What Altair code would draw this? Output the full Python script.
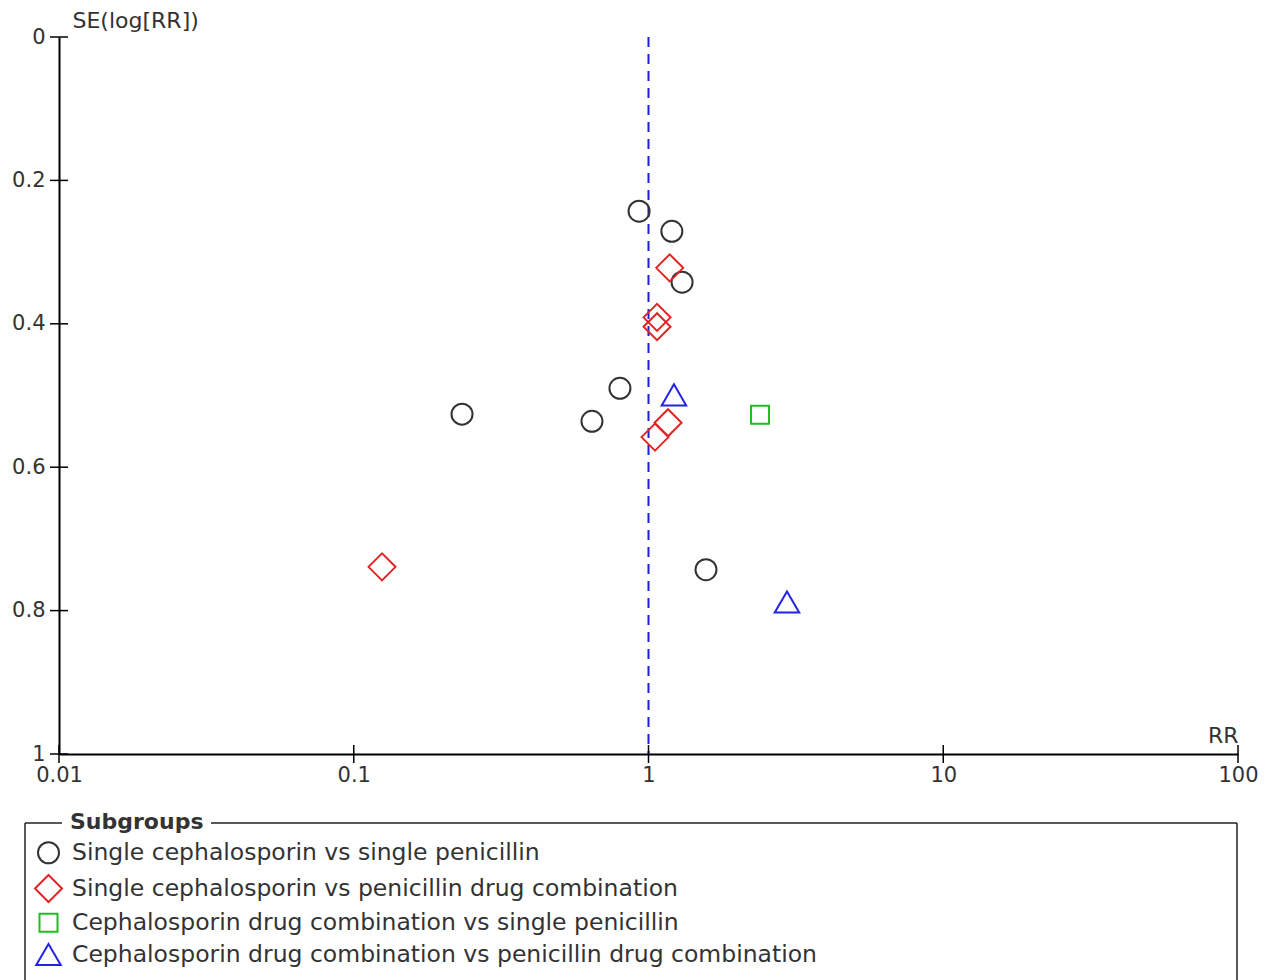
import altair as alt
import pandas as pd

# Subgroups shown in the funnel plot
groups = [
    "Single cephalosporin vs single penicillin",
    "Single cephalosporin vs penicillin drug combination",
    "Cephalosporin drug combination vs single penicillin",
    "Cephalosporin drug combination vs penicillin drug combination",
]
shapes = ["circle", "diamond", "square", "triangle-up"]
colors = ["#333333", "#e02424", "#1ebe1e", "#2323e6"]
sizes = [441, 729, 324, 600]

# Study estimates: risk ratio and standard error of log(RR)
study_group = [0, 0, 0, 0, 0, 0, 0, 1, 1, 1, 1, 1, 1, 2, 3, 3]
rr = [0.929, 1.20, 1.30, 0.80, 0.233, 0.643, 1.567,
      1.18, 1.069, 1.069, 1.165, 1.052, 0.1247,
      2.39,
      1.22, 2.95]
se = [0.243, 0.271, 0.342, 0.490, 0.526, 0.536, 0.743,
      0.322, 0.391, 0.404, 0.538, 0.558, 0.739,
      0.527,
      0.499, 0.788]

# Axis ticks and the pooled-effect reference line
x_ticks = [0.01, 0.1, 1, 10, 100]
y_ticks = [0, 0.2, 0.4, 0.6, 0.8, 1]
ref_rr = [1]
se_range = [0, 1]
legend_title = ["Subgroups"]

W, H = 1179, 717
font = "DejaVu Sans"
text_color = "#333333"

points = pd.DataFrame({
    "RR": rr,
    "SE": se,
    "Subgroup": [groups[i] for i in study_group],
})

xscale = alt.Scale(type="log", domain=[x_ticks[0], x_ticks[-1]], nice=False)
yscale = alt.Scale(domain=[se_range[0], se_range[1]], reverse=True, nice=False)

x_axis = alt.Axis(
    values=x_ticks, labelExpr="format(datum.value, '~g')",
    title="RR", titleX=W, titleY=-19, titleAlign="right", titleBaseline="middle",
    titleAngle=0, labelPadding=10, labelFlush=False, labelOverlap=False)
y_axis = alt.Axis(
    values=y_ticks, labelExpr="format(datum.value, '~g')",
    title="SE(log[RR])", titleX=13, titleY=-17, titleAlign="left",
    titleBaseline="middle", titleAngle=0, labelPadding=14, labelFlush=False,
    labelOverlap=False)

scatter = alt.Chart(points).mark_point(filled=False, strokeWidth=2, opacity=1).encode(
    x=alt.X("RR:Q", scale=xscale, axis=x_axis),
    y=alt.Y("SE:Q", scale=yscale, axis=y_axis),
    shape=alt.Shape("Subgroup:N", scale=alt.Scale(domain=groups, range=shapes),
                    legend=alt.Legend(title=None, orient="none", legendX=-25, legendY=804,
                                      labelOffset=9, rowPadding=3, symbolStrokeWidth=2,
                                      labelFontSize=23.5, labelColor=text_color,
                                      labelFont=font, labelLimit=1200, padding=0)),
    color=alt.Color("Subgroup:N", scale=alt.Scale(domain=groups, range=colors)),
    size=alt.Size("Subgroup:N", scale=alt.Scale(type="ordinal", domain=groups, range=sizes)),
)

ref_line = alt.Chart(pd.DataFrame({"RR": ref_rr, "lo": [se_range[0]], "hi": [se_range[1]]})).mark_rule(
    color="#1f1fd6", strokeWidth=2, strokeDash=[10, 7]
).encode(
    x=alt.X("RR:Q", scale=xscale, axis=x_axis),
    y=alt.Y("lo:Q", scale=yscale, axis=y_axis),
    y2="hi:Q",
)

yt = alt.Chart(pd.DataFrame({"v": y_ticks})).mark_rule(color="black", strokeWidth=1.5).encode(
    y=alt.Y("v:Q", scale=yscale, axis=y_axis),
    x=alt.value(-9), x2=alt.value(9),
)
xt = alt.Chart(pd.DataFrame({"v": x_ticks})).mark_rule(color="black", strokeWidth=1.5).encode(
    x=alt.X("v:Q", scale=xscale, axis=x_axis),
    y=alt.value(H - 9), y2=alt.value(H + 9),
)

# Legend frame with the title set into the top border
frame_color = "#222222"
frame = [
    alt.Chart(pd.DataFrame({"k": [0]})).mark_rule(color=frame_color, strokeWidth=1.5).encode(
        x=alt.value(-34), x2=alt.value(3), y=alt.value(786)),
    alt.Chart(pd.DataFrame({"k": [0]})).mark_rule(color=frame_color, strokeWidth=1.5).encode(
        x=alt.value(152), x2=alt.value(1178), y=alt.value(786)),
    alt.Chart(pd.DataFrame({"k": [0]})).mark_rule(color=frame_color, strokeWidth=1.5).encode(
        x=alt.value(-34), y=alt.value(786), y2=alt.value(960)),
    alt.Chart(pd.DataFrame({"k": [0]})).mark_rule(color=frame_color, strokeWidth=1.5).encode(
        x=alt.value(1178), y=alt.value(786), y2=alt.value(960)),
]
title = alt.Chart(pd.DataFrame({"t": legend_title})).mark_text(
    align="left", baseline="middle", fontSize=22, fontWeight="bold", font=font, color=text_color
).encode(text="t:N", x=alt.value(11), y=alt.value(785))

chart = alt.layer(ref_line, yt, xt, scatter, *frame, title).properties(
    width=W, height=H,
    autosize=alt.AutoSizeParams(type="none"),
    padding={"left": 59, "top": 37, "right": 34, "bottom": 226},
).configure_view(stroke=None).configure_axis(
    grid=False, ticks=False, domainColor="black", domainWidth=2,
    labelFont=font, labelFontSize=21, labelColor=text_color,
    titleFont=font, titleFontSize=22, titleColor=text_color, titleFontWeight="normal",
)

chart.save("out.html", embed_options={"renderer": "svg", "actions": False})
